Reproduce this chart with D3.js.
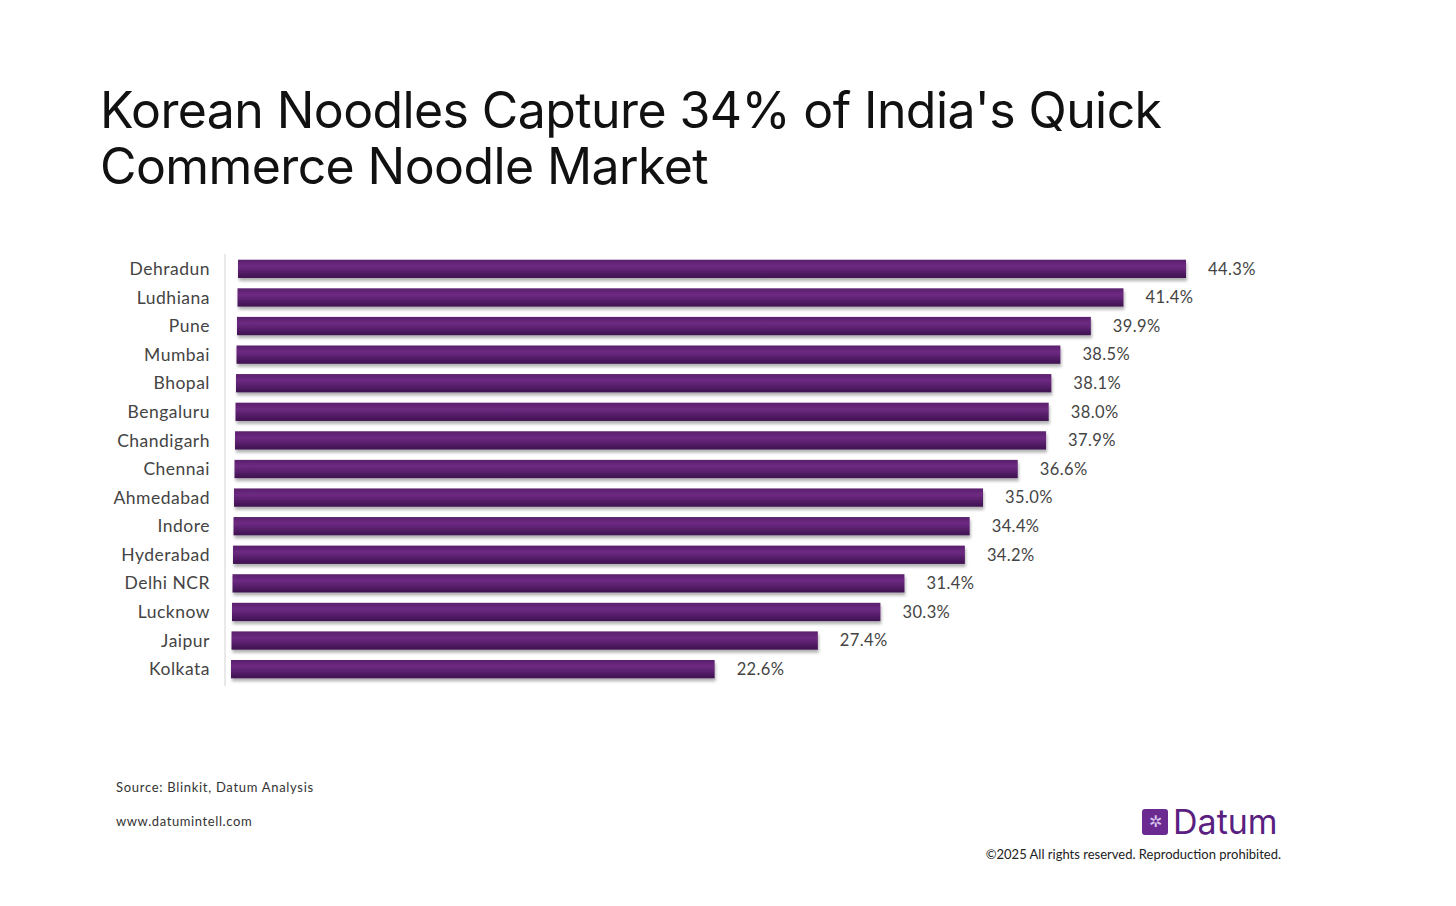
<!DOCTYPE html>
<html><head><meta charset="utf-8">
<script src="https://cdn.jsdelivr.net/npm/d3@7"></script>
<style>body{margin:0;background:#fff;font-family:Lato,"Open Sans",sans-serif}</style>
</head><body>
<svg id="chart" width="1456" height="906"></svg>
<script>
const cities = ['Dehradun','Ludhiana','Pune','Mumbai','Bhopal','Bengaluru','Chandigarh','Chennai','Ahmedabad','Indore','Hyderabad','Delhi NCR','Lucknow','Jaipur','Kolkata'];
const shares = [44.3,41.4,39.9,38.5,38.1,38.0,37.9,36.6,35.0,34.4,34.2,31.4,30.3,27.4,22.6];

const svg = d3.select('#chart');
const defs = svg.append('defs');
const grad = defs.append('linearGradient').attr('id','barGrad').attr('x1',0).attr('y1',0).attr('x2',0).attr('y2',1);
grad.append('stop').attr('offset','0%').attr('stop-color','#5a1f6c');
grad.append('stop').attr('offset','35%').attr('stop-color','#6d2a82');
grad.append('stop').attr('offset','100%').attr('stop-color','#3e1250');
const sh = defs.append('filter').attr('id','shadow').attr('x','-5%').attr('y','-50%').attr('width','110%').attr('height','250%');
sh.append('feDropShadow').attr('dx',1).attr('dy',3).attr('stdDeviation',1.6).attr('flood-color','#000').attr('flood-opacity',0.3);

// title
const title = svg.append('text').attr('x',100).attr('y',128)
  .style('font-family','Inter, "Noto Sans", sans-serif').style('font-size','50px').style('letter-spacing','-0.6px').attr('fill','#111');
title.append('tspan').attr('x',100).text("Korean Noodles Capture 34% of India's Quick");
title.append('tspan').attr('x',100).attr('dy',56).text('Commerce Noodle Market');

const y = d3.scaleBand().domain(cities).range([254, 684]).paddingInner(0.36).paddingOuter(0.2);
// slight perspective shift of the bar start
const x0 = d3.scaleLinear().domain([0, cities.length - 1]).range([238, 231]);
const x = d3.scaleLinear().domain([0, 1]).range([0, 21.4]);

svg.append('line').attr('x1',225).attr('x2',225).attr('y1',254).attr('y2',686).attr('stroke','#e2e2e2').attr('stroke-width',1.5);

const rows = svg.selectAll('g.row').data(cities).join('g').attr('class','row');
rows.append('rect')
  .attr('x',(d,i)=>x0(i)).attr('y',d=>y(d)).attr('height',y.bandwidth())
  .attr('width',(d,i)=>x(shares[i])).attr('fill','url(#barGrad)').attr('filter','url(#shadow)');
rows.append('text').attr('x',210).attr('y',d=>y(d)+y.bandwidth()/2).attr('dy','0.35em')
  .attr('text-anchor','end').style('font-size','17.5px').style('letter-spacing','0.5px').attr('fill','#444').text(d=>d);
rows.append('text').attr('x',(d,i)=>x0(i)+x(shares[i])+22).attr('y',d=>y(d)+y.bandwidth()/2).attr('dy','0.35em')
  .style('font-size','16.5px').style('letter-spacing','0.4px').attr('fill','#444').text((d,i)=>shares[i].toFixed(1)+'%');

svg.append('text').attr('x',116).attr('y',792).style('font-size','13px').style('letter-spacing','0.7px').attr('fill','#333').text('Source: Blinkit, Datum Analysis');
svg.append('text').attr('x',116).attr('y',826).style('font-size','13px').style('letter-spacing','0.6px').attr('fill','#333').text('www.datumintell.com');

// logo
svg.append('rect').attr('x',1142).attr('y',809).attr('width',26).attr('height',26).attr('rx',3).attr('fill','#6b2a8f');
svg.append('text').attr('x',1155).attr('y',827).attr('text-anchor','middle').style('font-size','16px').attr('fill','#d9c6ee').text('✲');
svg.append('text').attr('x',1173).attr('y',834).style('font-size','34px').style('font-family','Inter, sans-serif').attr('fill','#5a1f80').text('Datum');
svg.append('text').attr('x',1281).attr('y',859).attr('text-anchor','end').style('font-size','13px').attr('fill','#222')
  .text('©2025 All rights reserved. Reproduction prohibited.');
</script>
</body></html>
